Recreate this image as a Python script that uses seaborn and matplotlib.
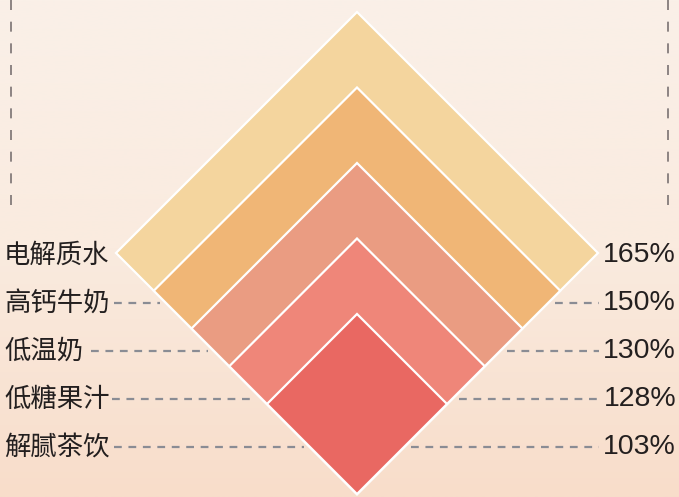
import numpy as np
import matplotlib
matplotlib.use("Agg")
import matplotlib.pyplot as plt
from matplotlib.patches import Polygon
from matplotlib.colors import LinearSegmentedColormap
import seaborn as sns

# ---- data ----
categories = ["电解质水", "高钙牛奶", "低温奶", "低糖果汁", "解腻茶饮"]
values = [165, 150, 130, 128, 103]
value_labels = [f"{v}%" for v in values]
colors = ["#F4D59E", "#F0B676", "#EA9C82", "#EF8679", "#E96862"]

sns.set_theme(style="white")
plt.rcParams['font.family'] = ['Noto Sans CJK SC', 'DejaVu Sans']

W, H = 679, 497
fig = plt.figure(figsize=(W / 100, H / 100), dpi=100)
ax = fig.add_axes([0, 0, 1, 1])
ax.set_xlim(0, W)
ax.set_ylim(H, 0)
ax.axis("off")

# background gradient
grad = np.linspace(0, 1, 256).reshape(-1, 1)
cmap = LinearSegmentedColormap.from_list("bg", ["#FAF0E8", "#FAEBDF", "#F8DDCA"])
ax.imshow(grad, extent=[0, W, H, 0], aspect="auto", cmap=cmap, zorder=0)

# layout constants
cx, bottom = 357, 494
hw0, step = 241, 37.75
row0, row_step = 255, 48
n = len(categories)

# nested diamonds sharing the bottom vertex (size by rank)
for i in range(n):
    hw = hw0 - step * i
    cy = bottom - hw
    pts = [(cx, bottom - 2 * hw), (cx + hw, cy), (cx, bottom), (cx - hw, cy)]
    ax.add_patch(Polygon(pts, closed=True, facecolor=colors[i],
                         edgecolor="white", linewidth=1.6, zorder=2 + i,
                         joinstyle="miter"))

# labels and dashed connectors
left_ends = [None, 114, 91, 112, 114]
for i in range(n):
    y = row0 + row_step * i
    ax.text(4, y, categories[i], ha="left", va="center", fontsize=19,
            color="#231F1F",
            family=['Noto Sans CJK SC', 'DejaVu Sans'], zorder=20)
    ax.text(676, y, value_labels[i], ha="right", va="center", fontsize=20.5,
            color="#231F1F", family=['Liberation Sans', 'DejaVu Sans'], zorder=20)
    if i > 0:
        x_left_edge = cx - (bottom - y)
        x_right_edge = cx + (bottom - y)
        ax.plot([left_ends[i], x_left_edge - 6], [y, y], color="#8A8C94",
                lw=1.6, dashes=(3.5, 3), zorder=1)
        ax.plot([x_right_edge + 7, 599], [y, y], color="#8A8C94",
                lw=1.6, dashes=(3.5, 3), zorder=1)

# vertical dashed guide lines at top
for x in (11, 668):
    ax.plot([x, x], [0, 212], color="#7A7272", lw=1.2, dashes=(6, 7), zorder=1)

fig.savefig("out.png", dpi=100)
